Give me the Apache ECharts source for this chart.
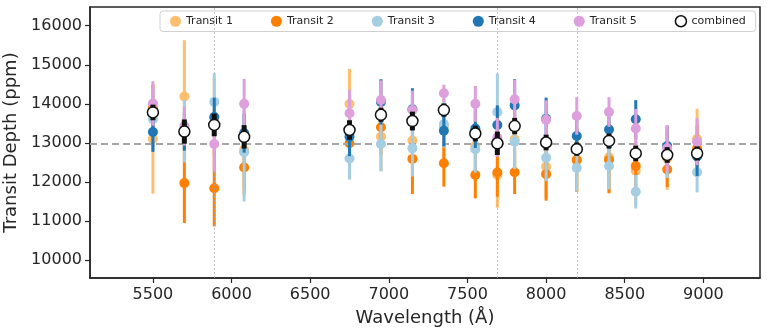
<!DOCTYPE html>
<html>
<head>
<meta charset="utf-8">
<script src="https://cdn.jsdelivr.net/npm/echarts@6/dist/echarts.min.js"></script>
<style>
  html, body { margin: 0; padding: 0; background: #fff; }
  #chart { width: 767px; height: 335px; }
</style>
</head>
<body>
<div id="chart"></div>
<script>
// Spectroscopic bins (Å)
const wavelengths = [5500, 5700, 5890, 6080, 6750, 6950, 7150, 7350, 7550, 7690, 7800, 8000, 8195, 8400, 8570, 8770, 8960];

// Per-transit depths (ppm) and 1-sigma uncertainties
const transit1    = [13100, 14190, 13650, 12820, 13995, 13160, 13060, 13430, 12920, 12180, 13090, 12390, 12560, 12630, 12290, 12600, 13100];
const transit1Err = [1400, 1440, 1000, 1000, 900, 880, 800, 800, 900, 840, 800, 800, 800, 900, 900, 800, 770];
const transit2    = [13890, 11970, 11840, 12370, 12990, 13400, 12590, 12480, 12180, 12240, 12250, 12200, 12560, 12560, 12410, 12320, 12860];
const transit2Err = [600, 1020, 980, 700, 700, 700, 900, 600, 600, 620, 560, 680, 810, 850, 600, 450, 600];
const transit3    = [13610, 13300, 14050, 12760, 12600, 12970, 12860, 13480, 12840, 13790, 13030, 12620, 12360, 12410, 11750, 12700, 12250];
const transit3Err = [800, 800, 735, 1260, 540, 700, 720, 600, 600, 990, 700, 600, 600, 600, 430, 600, 520];
const transit4    = [13280, 13300, 13660, 13250, 13160, 14050, 13860, 13310, 13370, 13460, 13960, 13620, 13175, 13345, 13605, 12920, 12650];
const transit4Err = [510, 500, 500, 500, 500, 580, 540, 400, 500, 500, 670, 540, 500, 500, 490, 500, 500];
const transit5    = [14010, 13430, 12970, 14000, 13760, 14100, 13840, 14270, 14000, 13140, 14115, 13590, 13690, 13790, 13370, 12860, 13030];
const transit5Err = [570, 500, 710, 640, 600, 500, 500, 220, 460, 500, 500, 500, 480, 380, 500, 600, 600];
const combined    = [13780, 13290, 13460, 13155, 13330, 13720, 13560, 13840, 13240, 12990, 13430, 13010, 12840, 13050, 12730, 12690, 12730];
const combinedErr = [200, 310, 290, 300, 250, 180, 240, 170, 200, 300, 210, 200, 170, 190, 200, 200, 180];

// Reference depth and absorption-line markers
const meanDepth = 12970;
const lineMarkers = [5890, 7690, 8195];

// Tick labels
const xTicks = [5500, 6000, 6500, 7000, 7500, 8000, 8500, 9000];
const yTicks = [10000, 11000, 12000, 13000, 14000, 15000, 16000];

const seriesDefs = [
  { name: 'Transit 1', y: transit1, err: transit1Err, color: '#fdbf6f' },
  { name: 'Transit 2', y: transit2, err: transit2Err, color: '#ff7f00' },
  { name: 'Transit 3', y: transit3, err: transit3Err, color: '#a6cee3' },
  { name: 'Transit 4', y: transit4, err: transit4Err, color: '#1f78b4' },
  { name: 'Transit 5', y: transit5, err: transit5Err, color: '#dda0dd' }
];

const FONT = 'DejaVu Sans';
const INK = '#262626';

function errorbarSeries(name, ys, errs, opts) {
  return {
    name: name,
    type: 'custom',
    data: wavelengths.map((w, i) => [w, ys[i], errs[i]]),
    encode: { x: 0, y: 1 },
    itemStyle: opts.itemStyle,
    z: opts.z,
    renderItem: function (params, api) {
      const x = api.value(0), y = api.value(1), e = api.value(2);
      const top = api.coord([x, y + e]);
      const bot = api.coord([x, y - e]);
      const c = api.coord([x, y]);
      return {
        type: 'group',
        children: [
          {
            type: 'line',
            shape: { x1: top[0], y1: top[1], x2: bot[0], y2: bot[1] },
            style: { stroke: opts.barColor, lineWidth: opts.barWidth }
          },
          {
            type: 'circle',
            shape: { cx: c[0], cy: c[1], r: opts.r },
            style: { fill: opts.fill, stroke: opts.stroke || null, lineWidth: opts.strokeWidth || 0 }
          }
        ]
      };
    }
  };
}

const series = seriesDefs.map((s, k) => errorbarSeries(s.name, s.y, s.err, {
  itemStyle: { color: s.color },
  barColor: s.color, barWidth: 3, r: 5, fill: s.color, z: 3 + k
}));

series.push(errorbarSeries('combined', combined, combinedErr, {
  itemStyle: { color: '#ffffff', borderColor: '#111', borderWidth: 1.5 },
  barColor: '#111', barWidth: 5, r: 5.5, fill: '#ffffff', stroke: '#111', strokeWidth: 1.5, z: 10
}));

// Reference lines (dashed mean depth, dotted line centres)
series.push({
  name: 'refs',
  type: 'line',
  data: [],
  silent: true,
  z: 1,
  markLine: {
    symbol: 'none',
    silent: true,
    label: { show: false },
    data: [
      { yAxis: meanDepth, lineStyle: { color: '#a6a6a6', type: [7, 4], width: 2 } }
    ].concat(lineMarkers.map(w => ({ xAxis: w, lineStyle: { color: '#aaa', type: [2, 2], width: 0.7 } })))
  }
});

const legendData = seriesDefs.map(s => ({ name: s.name, icon: 'circle', itemStyle: { color: s.color } }));
legendData.push({ name: 'combined', icon: 'circle', itemStyle: { color: '#fff', borderColor: '#111', borderWidth: 1.5 } });

const plain = v => String(v);

const chart = echarts.init(document.getElementById('chart'), null, { renderer: 'canvas' });
chart.setOption({
  animation: false,
  backgroundColor: '#ffffff',
  textStyle: { fontFamily: FONT },
  grid: {
    left: 90, right: 7, top: 7, bottom: 57,
    containLabel: false, outerBoundsMode: 'none',
    show: true, borderColor: INK, borderWidth: 1.5, backgroundColor: 'transparent'
  },
  legend: {
    data: legendData,
    left: 160, top: 11,
    itemWidth: 11, itemHeight: 11,
    itemGap: 38,
    padding: [4, 10],
    backgroundColor: '#fff',
    borderColor: '#d0d0d0', borderWidth: 1, borderRadius: 3,
    textStyle: { fontFamily: FONT, fontSize: 11, color: INK }
  },
  xAxis: {
    type: 'value',
    min: 5100, max: 9360,
    name: 'Wavelength (Å)',
    nameLocation: 'middle', nameGap: 31,
    nameTextStyle: { fontFamily: FONT, fontSize: 18, color: INK },
    axisLine: { show: true, lineStyle: { color: INK, width: 1.5 } },
    axisTick: { show: true, length: 5, lineStyle: { color: INK, width: 1.2 }, customValues: xTicks },
    axisLabel: { fontFamily: FONT, fontSize: 16, color: INK, margin: 9, customValues: xTicks, formatter: plain },
    splitLine: { show: false }
  },
  yAxis: {
    type: 'value',
    min: 9540, max: 16480,
    name: 'Transit Depth (ppm)',
    nameLocation: 'middle', nameGap: 66,
    nameTextStyle: { fontFamily: FONT, fontSize: 18, color: INK },
    axisLine: { show: true, lineStyle: { color: INK, width: 1.5 } },
    axisTick: { show: true, length: 5, lineStyle: { color: INK, width: 1.2 }, customValues: yTicks },
    axisLabel: { fontFamily: FONT, fontSize: 16, color: INK, margin: 8, customValues: yTicks, formatter: plain },
    splitLine: { show: false }
  },
  series: series
});
</script>
</body>
</html>
